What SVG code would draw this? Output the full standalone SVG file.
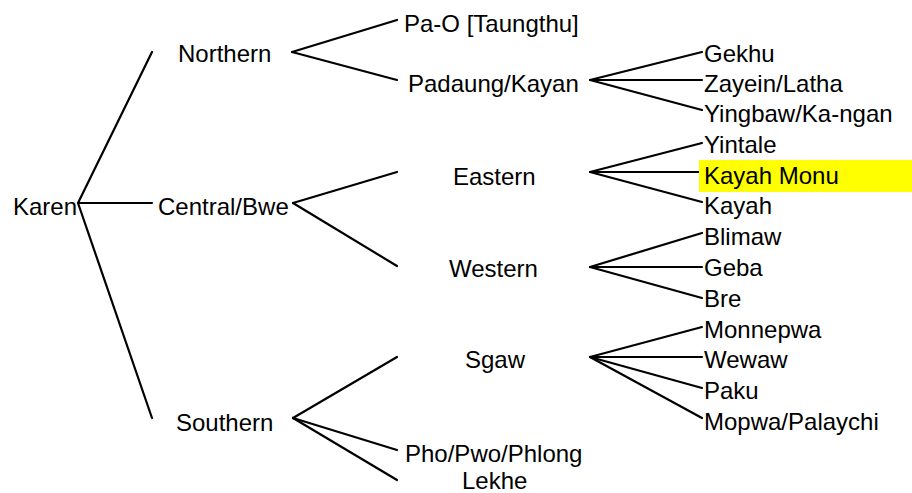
<svg xmlns="http://www.w3.org/2000/svg" width="912" height="493" viewBox="0 0 912 493">
<style>
text{font-family:"Liberation Sans",Arial,sans-serif;font-size:24px;fill:#000}
.c line{stroke:#000;stroke-width:2.2;stroke-linecap:round}
</style>
<rect width="912" height="493" fill="#fff"/>
<g class="c" id="connectors">
<line x1="78" y1="203" x2="152" y2="52"/>
<line x1="78" y1="203" x2="152" y2="203"/>
<line x1="78" y1="203" x2="152" y2="418"/>
<line x1="292" y1="52" x2="397" y2="20"/>
<line x1="292" y1="52" x2="397" y2="80"/>
<line x1="293" y1="203" x2="397" y2="172"/>
<line x1="293" y1="203" x2="397" y2="266"/>
<line x1="293" y1="418" x2="397" y2="357"/>
<line x1="293" y1="418" x2="397" y2="450"/>
<line x1="293" y1="418" x2="397" y2="480"/>
<line x1="590" y1="80" x2="702" y2="52"/>
<line x1="590" y1="80" x2="702" y2="80"/>
<line x1="590" y1="80" x2="702" y2="110"/>
<line x1="590" y1="172" x2="702" y2="143"/>
<line x1="590" y1="172" x2="702" y2="172"/>
<line x1="590" y1="172" x2="702" y2="202"/>
<line x1="590" y1="267" x2="702" y2="233"/>
<line x1="590" y1="267" x2="702" y2="267"/>
<line x1="590" y1="267" x2="702" y2="298"/>
<line x1="590" y1="357" x2="702" y2="327"/>
<line x1="590" y1="357" x2="702" y2="357"/>
<line x1="590" y1="357" x2="702" y2="388"/>
<line x1="590" y1="357" x2="702" y2="418"/>
</g>
<g id="karen"><text x="13" y="215">Karen</text></g>
<g id="northern"><text x="178" y="62">Northern</text></g>
<g id="central"><text x="158" y="215">Central/Bwe</text></g>
<g id="southern"><text x="176" y="431">Southern</text></g>
<g id="pao"><text x="404" y="32">Pa-O [Taungthu]</text></g>
<g id="padaung"><text x="408" y="92">Padaung/Kayan</text></g>
<g id="eastern"><text x="453" y="185">Eastern</text></g>
<g id="western"><text x="449" y="277">Western</text></g>
<g id="sgaw"><text x="465" y="368">Sgaw</text></g>
<g id="pho"><text x="405" y="462">Pho/Pwo/Phlong</text></g>
<g id="lekhe"><text x="462" y="489">Lekhe</text></g>
<g id="gekhu"><text x="704" y="62">Gekhu</text></g>
<g id="zayein"><text x="704" y="92">Zayein/Latha</text></g>
<g id="yingbaw"><text x="704" y="122">Yingbaw/Ka-ngan</text></g>
<g id="yintale"><text x="704" y="153">Yintale</text></g>
<g id="kayahmonu"><rect x="699" y="160" width="213" height="32" fill="#ffff00"/><text x="704" y="184">Kayah Monu</text></g>
<g id="kayah"><text x="704" y="214">Kayah</text></g>
<g id="blimaw"><text x="704" y="245">Blimaw</text></g>
<g id="geba"><text x="704" y="276">Geba</text></g>
<g id="bre"><text x="704" y="307">Bre</text></g>
<g id="monnepwa"><text x="704" y="338">Monnepwa</text></g>
<g id="wewaw"><text x="704" y="368">Wewaw</text></g>
<g id="paku"><text x="704" y="399">Paku</text></g>
<g id="mopwa"><text x="704" y="430">Mopwa/Palaychi</text></g>
</svg>
